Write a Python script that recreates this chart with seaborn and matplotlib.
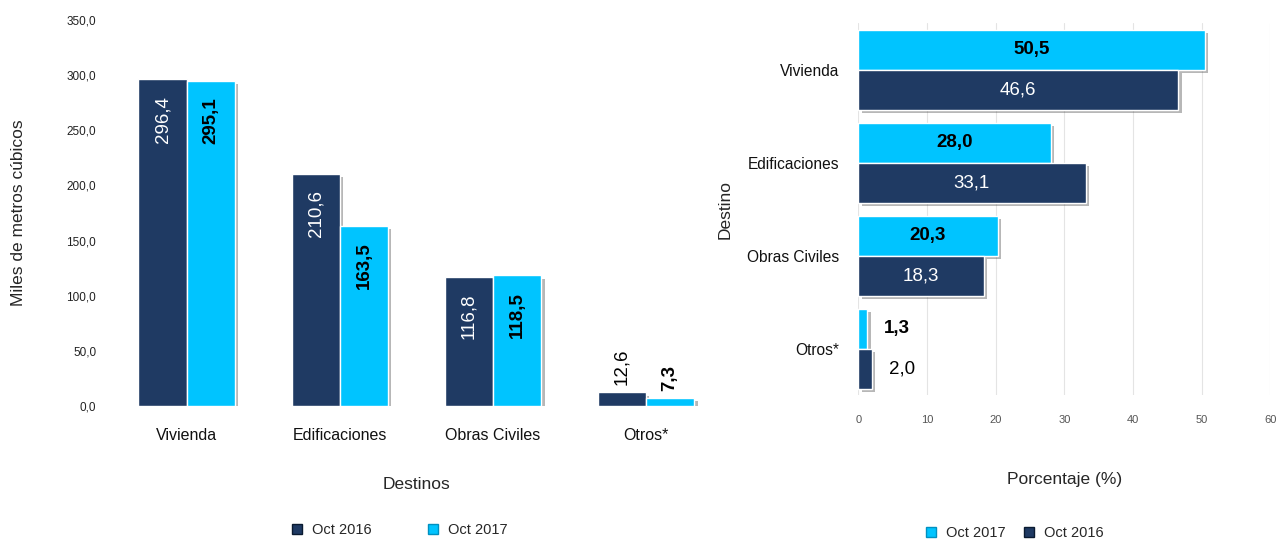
import matplotlib
matplotlib.use("Agg")
import matplotlib.pyplot as plt
import matplotlib.patheffects as pe
from matplotlib.lines import Line2D
import seaborn as sns
import pandas as pd

categories = ["Vivienda", "Edificaciones", "Obras Civiles", "Otros*"]
vol_2016 = [296.4, 210.6, 116.8, 12.6]
vol_2017 = [295.1, 163.5, 118.5, 7.3]
pct_2017 = [50.5, 28.0, 20.3, 1.3]
pct_2016 = [46.6, 33.1, 18.3, 2.0]
series = ["Oct 2016", "Oct 2017"]
left_ticks = [0, 50, 100, 150, 200, 250, 300, 350]
right_ticks = [0, 10, 20, 30, 40, 50, 60]

DARK = "#1F3A63"
CYAN = "#00C4FF"
palette = {"Oct 2016": DARK, "Oct 2017": CYAN}

sns.set_theme(style="white")
plt.rcParams["font.family"] = ["Liberation Sans", "DejaVu Sans"]

fmt = lambda v: f"{v:.1f}".replace(".", ",")

fig = plt.figure(figsize=(12.81, 5.40), dpi=100)

# ---------------- Left chart ----------------
axL = fig.add_axes([0.086, 0.248, 0.478, 0.715])
dfL = pd.DataFrame({
    "Destinos": categories * 2,
    "Serie": [series[0]] * 4 + [series[1]] * 4,
    "Valor": vol_2016 + vol_2017,
})
sns.barplot(data=dfL, x="Destinos", y="Valor", hue="Serie", hue_order=series,
            palette=palette, width=0.63, ax=axL, legend=False, saturation=1)
shadow = [pe.SimplePatchShadow(offset=(2.5, -2.5), shadow_rgbFace="#333333", alpha=0.35), pe.Normal()]
for p in axL.patches:
    p.set_path_effects(shadow)
axL.set_ylim(0, 350)
axL.set_xlim(-0.5, 3.5)
axL.set_yticks(left_ticks)
axL.set_yticklabels([fmt(t) for t in left_ticks], fontsize=8.5, color="#222222")
axL.tick_params(axis="x", labelsize=11.5, colors="#111111", pad=10)
axL.tick_params(axis="y", pad=4)
for s in axL.spines.values():
    s.set_visible(False)
axL.set_xlabel("Destinos", fontsize=12.5, labelpad=24)
axL.set_ylabel("Miles de metros cúbicos", fontsize=12.5)
axL.yaxis.set_label_coords(-0.137, 0.5)

for cont, vals, col, wt in zip(axL.containers, [vol_2016, vol_2017], ["white", "black"], ["normal", "bold"]):
    for bar, v in zip(cont, vals):
        x = bar.get_x() + bar.get_width() / 2
        if v > 50:
            axL.annotate(fmt(v), (x, v), xytext=(0, -12), textcoords="offset points",
                         rotation=90, ha="center", va="top", fontsize=13.5,
                         color=col, fontweight=wt)
        else:
            axL.annotate(fmt(v), (x, v), xytext=(0, 5), textcoords="offset points",
                         rotation=90, ha="center", va="bottom", fontsize=13.5,
                         color="black", fontweight=wt)

hL = [Line2D([], [], marker="s", ls="", color=palette[s], markersize=7,
             markeredgecolor="#0a1a30" if s == "Oct 2016" else "#0090c0") for s in series]
fig.legend(hL, series, loc="center", bbox_to_anchor=(395 / 1281, 1 - 530 / 540),
           ncol=2, frameon=False, fontsize=10.5, handletextpad=0.05, columnspacing=3.2)

# ---------------- Right chart ----------------
axR = fig.add_axes([0.670, 0.2676, 0.3216, 0.689])
order_r = ["Oct 2017", "Oct 2016"]
dfR = pd.DataFrame({
    "Destino": categories * 2,
    "Serie": [order_r[0]] * 4 + [order_r[1]] * 4,
    "Pct": pct_2017 + pct_2016,
})
sns.barplot(data=dfR, y="Destino", x="Pct", hue="Serie", hue_order=order_r,
            palette=palette, width=0.86, orient="h", ax=axR, legend=False, saturation=1)
for p in axR.patches:
    p.set_path_effects(shadow)
axR.set_xlim(0, 60)
axR.set_ylim(3.5, -0.5)
axR.set_xticks(right_ticks)
axR.set_xticklabels([str(t) for t in right_ticks], fontsize=8, color="#555555")
axR.xaxis.grid(True, color="#e4e4e4", lw=0.8)
axR.set_axisbelow(True)
axR.tick_params(axis="y", labelsize=11.2, colors="#111111", pad=8)
axR.tick_params(axis="x", pad=8)
for s in axR.spines.values():
    s.set_visible(False)
axR.set_xlabel("Porcentaje (%)", fontsize=12.5, labelpad=34)
axR.set_ylabel("Destino", fontsize=12.5, labelpad=10)

for cont, vals, col, wt in zip(axR.containers, [pct_2017, pct_2016], ["black", "white"], ["bold", "normal"]):
    for bar, v in zip(cont, vals):
        y = bar.get_y() + bar.get_height() / 2
        if v > 5:
            axR.text(v / 2, y, fmt(v), ha="center", va="center", fontsize=13.5,
                     color=col, fontweight=wt)
        else:
            axR.annotate(fmt(v), (v, y), xytext=(12, 0), textcoords="offset points",
                         ha="left", va="center", fontsize=13.5, color="black",
                         fontweight=wt)

hR = [Line2D([], [], marker="s", ls="", color=palette[s], markersize=7,
             markeredgecolor="#0a1a30" if s == "Oct 2016" else "#0090c0") for s in order_r]
fig.legend(hR, order_r, loc="center", bbox_to_anchor=(1010 / 1281, 1 - 533 / 540),
           ncol=2, frameon=False, fontsize=10.5, handletextpad=0.05, columnspacing=0.6)

fig.savefig("out.png", dpi=100)
